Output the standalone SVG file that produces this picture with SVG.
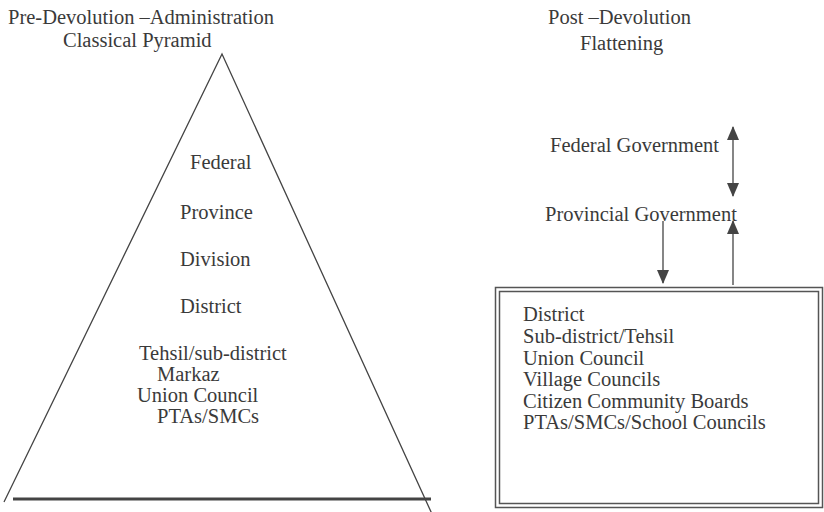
<svg xmlns="http://www.w3.org/2000/svg" width="824" height="512" viewBox="0 0 824 512">
<style>
text{font-family:"Liberation Serif","Times New Roman",serif;font-size:20.5px;fill:#3a3a3a}
.ln{stroke:#444;stroke-width:1.3;fill:none}
</style>
<defs>
<marker id="ah" viewBox="0 0 14 12" refX="13" refY="6" markerWidth="14" markerHeight="12" markerUnits="userSpaceOnUse" orient="auto-start-reverse">
<path d="M0,0 L14,6 L0,12 z" fill="#444"/>
</marker>
</defs>
<rect width="824" height="512" fill="#fff"/>
<g id="left-title">
<text x="8" y="24">Pre-Devolution –Administration</text>
<text x="63" y="47">Classical Pyramid</text>
</g>
<g id="pyramid">
<path class="ln" d="M4,502 L222,54 L432,514"/>
<line x1="13" y1="499" x2="431" y2="499" stroke="#444" stroke-width="3"/>
<text x="190" y="169">Federal</text>
<text x="180" y="219">Province</text>
<text x="180" y="266">Division</text>
<text x="180" y="313">District</text>
<text x="139" y="360">Tehsil/sub-district</text>
<text x="157" y="381">Markaz</text>
<text x="137" y="402">Union Council</text>
<text x="157" y="423">PTAs/SMCs</text>
</g>
<g id="right-title">
<text x="548" y="24">Post –Devolution</text>
<text x="580" y="50">Flattening</text>
</g>
<g id="federal"><text x="550" y="152">Federal Government</text></g>
<g id="provincial"><text x="545" y="221">Provincial Government</text></g>
<g id="local-box">
<rect x="495.5" y="287.5" width="327" height="220" fill="none" stroke="#555" stroke-width="1.5"/>
<rect x="499.5" y="291.5" width="319" height="212" fill="none" stroke="#555" stroke-width="1.5"/>
<text x="523" y="321">District</text>
<text x="523" y="343">Sub-district/Tehsil</text>
<text x="523" y="365">Union Council</text>
<text x="523" y="386">Village Councils</text>
<text x="523" y="408">Citizen Community Boards</text>
<text x="523" y="429">PTAs/SMCs/School Councils</text>
</g>
<g id="connectors">
<line class="ln" x1="733" y1="127" x2="733" y2="196" marker-start="url(#ah)" marker-end="url(#ah)"/>
<line class="ln" x1="663" y1="221" x2="663" y2="283" marker-end="url(#ah)"/>
<line class="ln" x1="733" y1="285" x2="733" y2="221" marker-end="url(#ah)"/>
</g>
</svg>
